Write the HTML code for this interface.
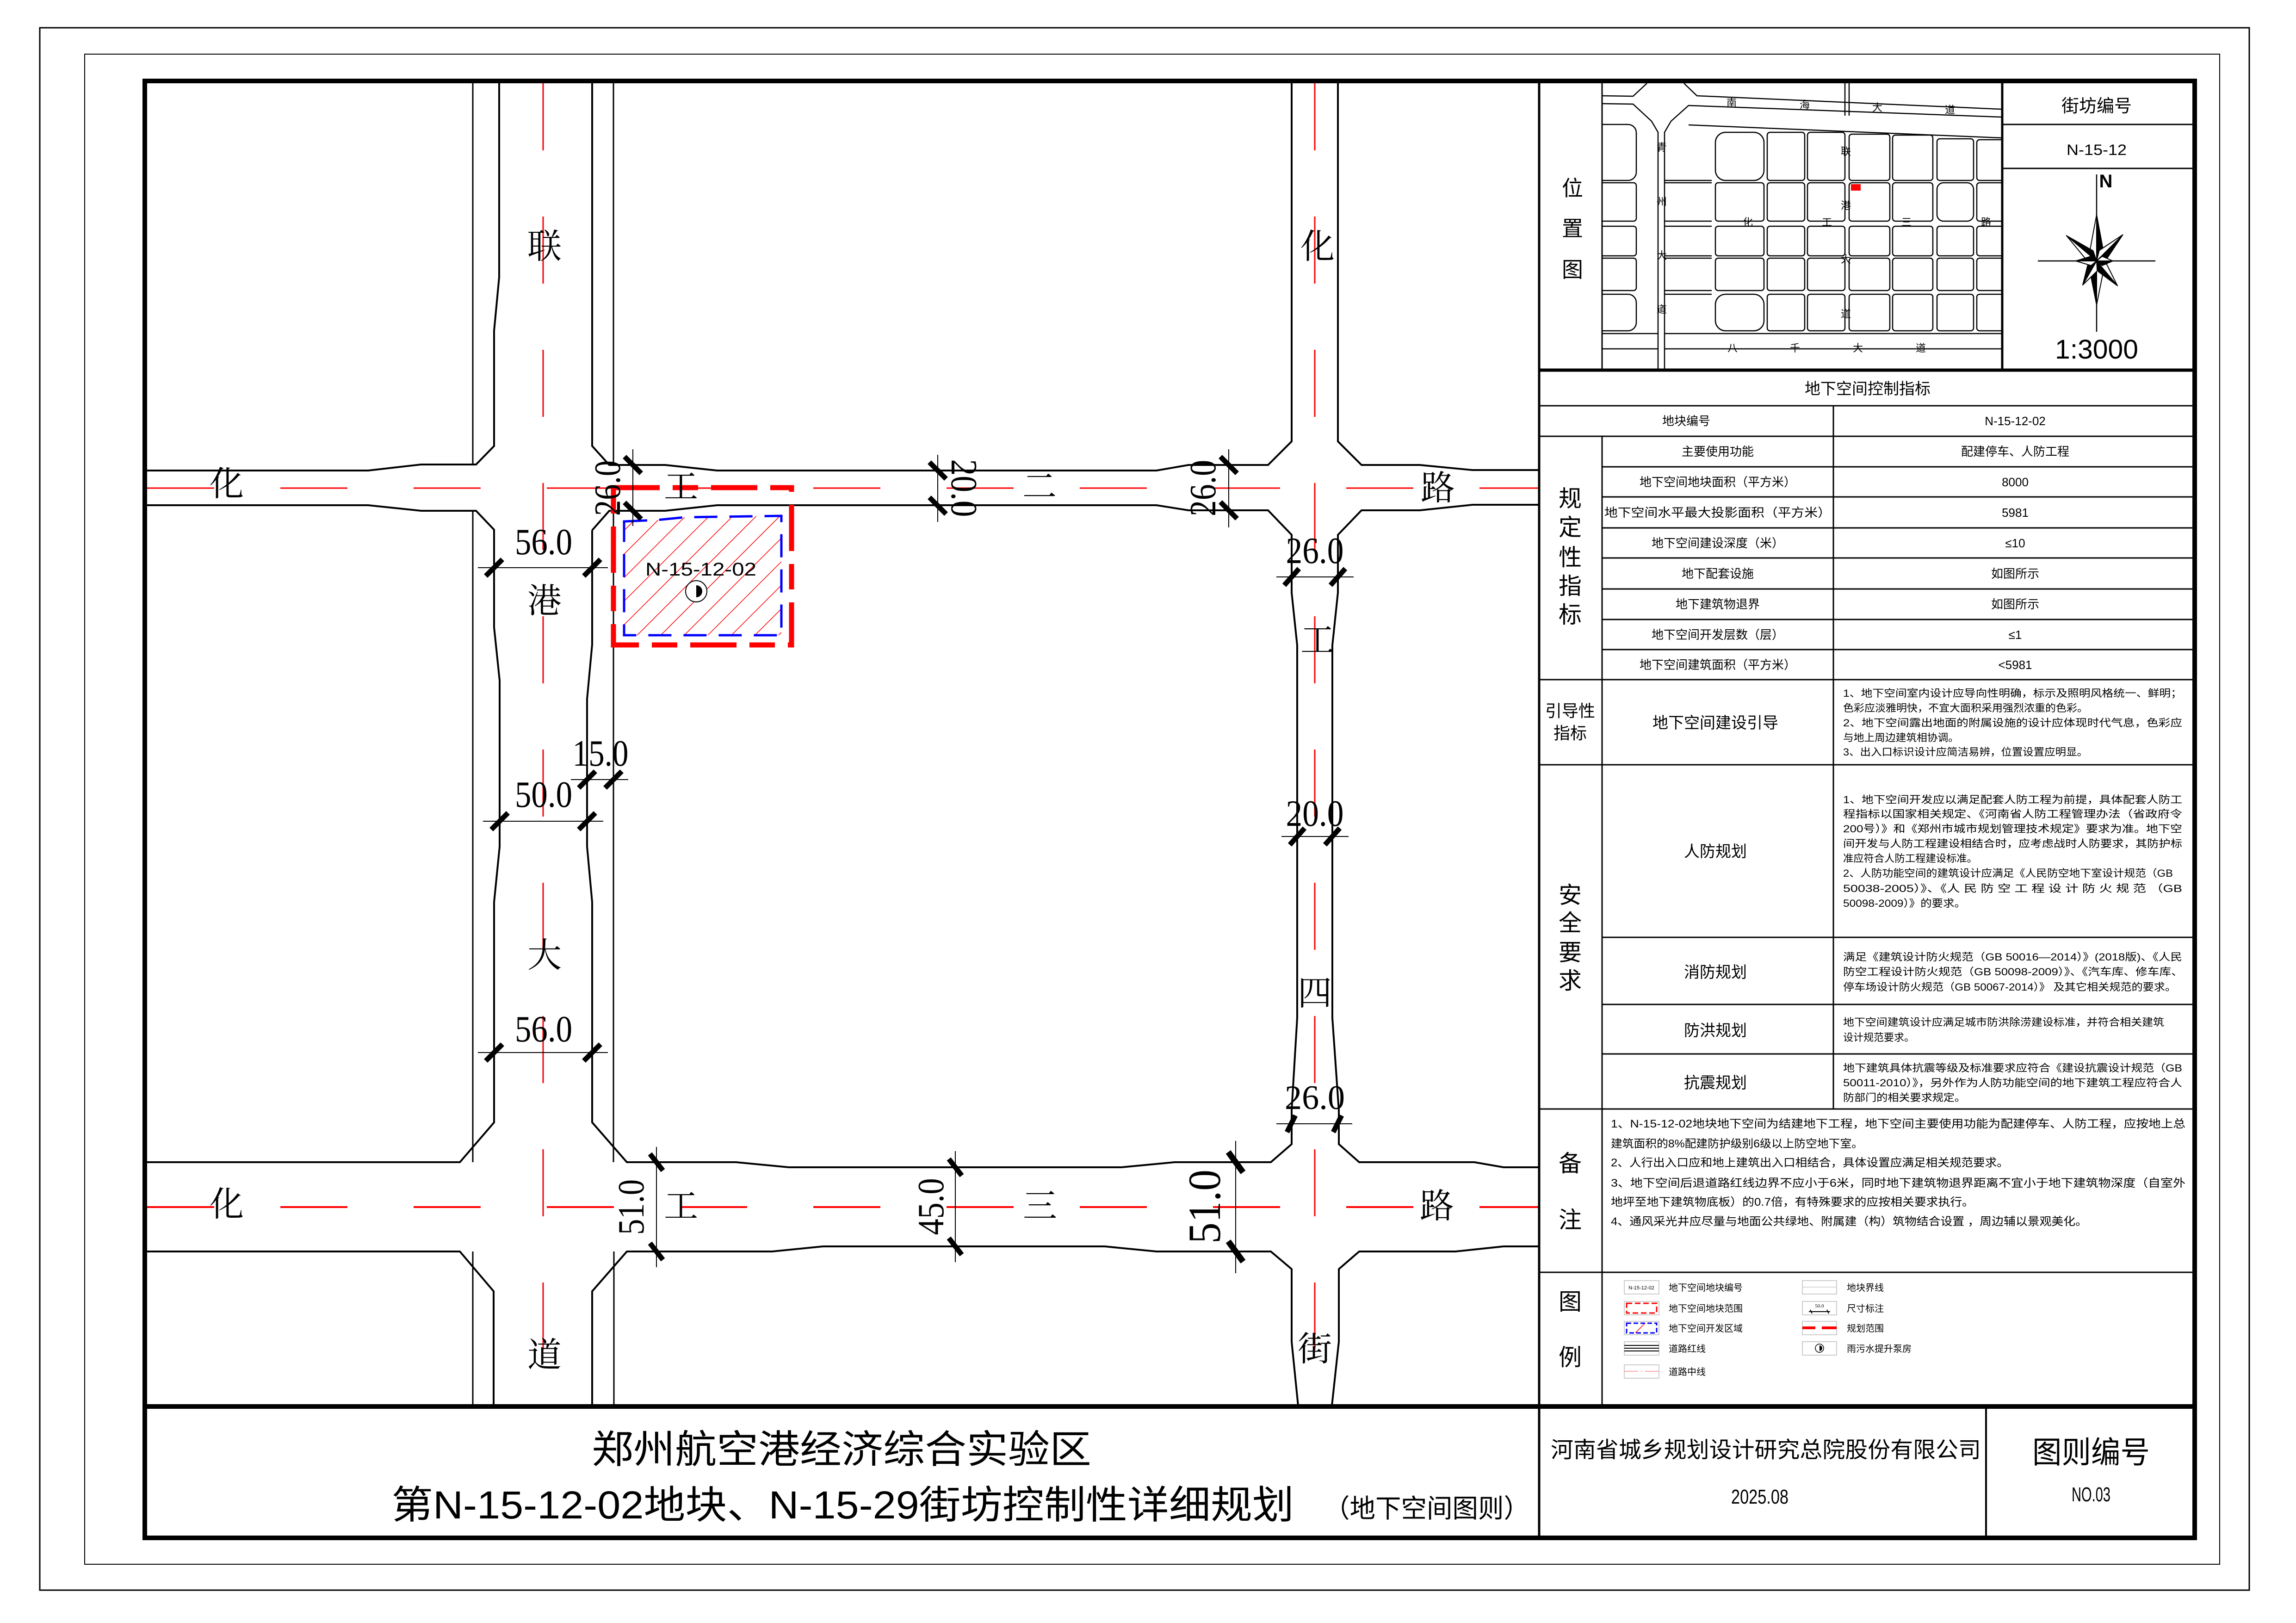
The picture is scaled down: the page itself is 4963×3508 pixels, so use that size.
<!DOCTYPE html>
<html><head><meta charset="utf-8"><style>
html,body{margin:0;padding:0;background:#fff;}
svg{display:block;}
.m{font-family:"Liberation Serif","Noto Serif CJK SC",serif;}
.s{font-family:"Liberation Sans","Noto Sans CJK SC",sans-serif;}
</style></head><body>
<svg xmlns="http://www.w3.org/2000/svg" width="4963" height="3508" viewBox="0 0 4963 3508">
<defs>
<pattern id="hatch" patternUnits="userSpaceOnUse" width="36" height="36" patternTransform="rotate(45)">
<line x1="0" y1="0" x2="0" y2="36" stroke="#f00" stroke-width="3"/>
</pattern>
<clipPath id="locclip"><rect x="3463" y="180" width="865" height="618"/></clipPath>
</defs>
<rect width="4963" height="3508" fill="#fff"/>
<rect x="86" y="60" width="4776" height="3377" fill="none" stroke="#000" stroke-width="3"/>
<rect x="183" y="117" width="4615" height="3264" fill="none" stroke="#000" stroke-width="2"/>

<g fill="none" stroke="#000" stroke-width="4" stroke-linejoin="miter">
<path d="M1022,180 V1004 M1022,1104 V2512 M1022,2705 V3038" stroke-width="3"/>
<path d="M1326,180 V1005 M1326,1104 V2512 M1327,2705 V3038" stroke-width="3"/>
<path d="M1079,180 L1079,599 L1068,715 L1068,964 L1029,1004 L910,1004 L796,1017 L318,1017"/>
<path d="M318,1092 L796,1092 L910,1104 L1029,1104 L1068,1145 L1068,1356 L1080,1471 L1080,1830 L1068,1950 L1068,2426 L994,2512 L318,2512"/>
<path d="M318,2705 L994,2705 L1067,2791 L1067,3038"/>
<path d="M1280,180 L1280,964 L1317,1005 L1438,1005 L1550,1017 L2500,1017 L2569,1005 L2741,1005 L2792,954 L2792,180"/>
<path d="M2892,180 L2892,954 L2943,1005 L3069,1005 L3183,1016 L3327,1016"/>
<path d="M1280,1146 L1317,1104 L1438,1104 L1550,1092 L2500,1092 L2569,1103 L2741,1103 L2792,1156 L2792,1281 L2804,1395 L2804,2200 L2792,2400 L2792,2473 L2747,2512 L2539,2512 L2424,2523 L1705,2523 L1591,2512 L1355,2512 L1280,2426 L1280,1950 L1269,1830 L1269,1511 L1280,1393 L1280,1146"/>
<path d="M3327,1091 L3183,1091 L3069,1103 L2943,1103 L2892,1156 L2892,1281 L2880,1395 L2880,2200 L2894,2400 L2894,2473 L2938,2512 L3187,2512 L3250,2523 L3327,2523"/>
<path d="M3327,2694 L3250,2694 L3146,2705 L2938,2705 L2894,2743 L2894,2900 L2879,3038"/>
<path d="M2806,3038 L2792,2900 L2792,2743 L2747,2705 L2500,2705 L2388,2694 L1779,2694 L1669,2705 L1355,2705 L1280,2791 L1280,3038"/>
</g>
<g stroke="#f00" stroke-width="3" stroke-dasharray="145 143" fill="none">
<line x1="1174" y1="180" x2="1174" y2="3038"/>
<line x1="2842" y1="180" x2="2842" y2="3038"/>
<line x1="318" y1="1055" x2="3327" y2="1055"/>
<line x1="318" y1="2609" x2="3327" y2="2609" stroke-width="4"/>
</g>
<polygon points="1349,1127 1420,1124 1480,1118 1689,1115 1689,1373 1349,1373" fill="url(#hatch)"/>
<polygon points="1349,1127 1420,1124 1480,1118 1689,1115 1689,1373 1349,1373" fill="none" stroke="#00f" stroke-width="5" stroke-dasharray="50 26"/>
<rect x="1326" y="1054" width="385" height="340" fill="none" stroke="#f00" stroke-width="11" stroke-dasharray="100 28 55 28"/>
<text x="1515" y="1244" class="s" font-size="40" text-anchor="middle" textLength="240" lengthAdjust="spacingAndGlyphs">N-15-12-02</text>
<circle cx="1505" cy="1278" r="23" fill="#fff" stroke="#000" stroke-width="2"/>
<path d="M1505,1265 A13,13 0 0 1 1505,1291 Z" fill="#000"/>
<g class="m" font-size="74" text-anchor="middle" font-family="Noto Serif CJK SC, serif">
<text x="1177" y="558">联</text><text x="1177" y="1324">港</text><text x="1177" y="2090">大</text><text x="1177" y="2954">道</text>
<text x="490" y="1071">化</text><text x="1472" y="1077">工</text><text x="2247" y="1077">二</text><text x="3108" y="1080">路</text>
<text x="2848" y="558">化</text><text x="2848" y="1409">工</text><text x="2842" y="2172">四</text><text x="2842" y="2941">街</text>
<text x="490" y="2628">化</text><text x="1472" y="2632">工</text><text x="2248" y="2632">三</text><text x="3106" y="2632">路</text>
</g>
<g stroke="#000" stroke-width="2" fill="none">
<line x1="1033" y1="1227" x2="1314" y2="1227"/>
<line x1="1234" y1="1685" x2="1358" y2="1685"/>
<line x1="1044" y1="1775" x2="1304" y2="1775"/>
<line x1="1033" y1="2275" x2="1314" y2="2275"/>
<line x1="1368" y1="971" x2="1368" y2="1137"/>
<line x1="2027" y1="983" x2="2027" y2="1128"/>
<line x1="2656" y1="971" x2="2656" y2="1140"/>
<line x1="2759" y1="1247" x2="2926" y2="1247"/>
<line x1="2770" y1="1808" x2="2915" y2="1808"/>
<line x1="2759" y1="2429" x2="2923" y2="2429"/>
<line x1="1419" y1="2479" x2="1419" y2="2739"/>
<line x1="2065" y1="2488" x2="2065" y2="2728"/>
<line x1="2671" y1="2466" x2="2671" y2="2752"/>
</g>
<g stroke="#000" stroke-width="11">
<path d="M1050,1245 L1086,1209 M1262,1245 L1298,1209"/>
<path d="M1251,1703 L1287,1667 M1308,1703 L1344,1667"/>
<path d="M1062,1793 L1098,1757 M1251,1793 L1287,1757"/>
<path d="M1050,2293 L1086,2257 M1262,2293 L1298,2257"/>
<path d="M2776,1265 L2808,1229 M2876,1265 L2908,1229"/>
<path d="M2788,1826 L2820,1790 M2864,1826 L2896,1790"/>
<path d="M2782,2447 L2800,2411 M2882,2447 L2900,2411"/>
<path d="M1350,987 L1386,1023 M1350,1086 L1386,1122"/>
<path d="M2009,999 L2045,1035 M2009,1075 L2045,1111"/>
<path d="M2638,987 L2674,1023 M2638,1085 L2674,1121"/>
<path d="M1405,2494 L1433,2530 M1405,2687 L1433,2723"/>
<path d="M2051,2505 L2079,2541 M2051,2676 L2079,2712"/>
<path d="M2655,2490 L2687,2534 M2655,2683 L2687,2727" stroke-width="13"/>
</g>
<g class="m" font-size="80" text-anchor="middle" font-family="Liberation Serif, serif">
<text x="1175" y="1198" textLength="124" lengthAdjust="spacingAndGlyphs">56.0</text>
<text x="1298" y="1655" textLength="121" lengthAdjust="spacingAndGlyphs">15.0</text>
<text x="1175" y="1744" textLength="124" lengthAdjust="spacingAndGlyphs">50.0</text>
<text x="1175" y="2251" textLength="124" lengthAdjust="spacingAndGlyphs">56.0</text>
<text x="2842" y="1217" textLength="125" lengthAdjust="spacingAndGlyphs">26.0</text>
<text x="2842" y="1785" textLength="125" lengthAdjust="spacingAndGlyphs">20.0</text>
<text x="2842" y="2397" textLength="130" lengthAdjust="spacingAndGlyphs" font-size="74">26.0</text>
<text transform="translate(1340,1055) rotate(-90)" textLength="120" lengthAdjust="spacingAndGlyphs">26.0</text>
<text transform="translate(2057,1055) rotate(90)" textLength="125" lengthAdjust="spacingAndGlyphs">20.0</text>
<text transform="translate(2627,1055) rotate(-90)" textLength="122" lengthAdjust="spacingAndGlyphs">26.0</text>
<text transform="translate(1391,2609) rotate(-90)" textLength="120" lengthAdjust="spacingAndGlyphs">51.0</text>
<text transform="translate(2039,2608) rotate(-90)" textLength="123" lengthAdjust="spacingAndGlyphs">45.0</text>
<text transform="translate(2637,2608) rotate(-90)" font-size="100" textLength="160" lengthAdjust="spacingAndGlyphs">51.0</text>
</g>

<line x1="308" y1="3040" x2="4749" y2="3040" stroke="#000" stroke-width="10"/>
<g class="s" font-family="Liberation Sans, Noto Sans CJK SC, sans-serif" fill="#000">
<text x="1279" y="3162" font-size="84" textLength="1080" lengthAdjust="spacingAndGlyphs">郑州航空港经济综合实验区</text>
<text x="846" y="3282" font-size="84" textLength="1951" lengthAdjust="spacingAndGlyphs">第N-15-12-02地块、N-15-29街坊控制性详细规划</text>
<text x="2862" y="3280" font-size="56" textLength="444" lengthAdjust="spacingAndGlyphs">（地下空间图则）</text>
<text x="3352" y="3150" font-size="48" textLength="930" lengthAdjust="spacingAndGlyphs">河南省城乡规划设计研究总院股份有限公司</text>
<text x="3804" y="3250" font-size="44" text-anchor="middle" textLength="124" lengthAdjust="spacingAndGlyphs">2025.08</text>
<text x="4520" y="3162" font-size="66" text-anchor="middle" textLength="254" lengthAdjust="spacingAndGlyphs">图则编号</text>
<text x="4520" y="3245" font-size="44" text-anchor="middle" textLength="84" lengthAdjust="spacingAndGlyphs">NO.03</text>
</g>
<line x1="4293" y1="3040" x2="4293" y2="3329" stroke="#000" stroke-width="4"/>

<g stroke="#000" stroke-width="3" fill="none">
<line x1="3327" y1="175" x2="3327" y2="3329" stroke-width="5"/>
<line x1="3463" y1="180" x2="3463" y2="798"/>
<line x1="4328" y1="180" x2="4328" y2="798" stroke-width="5"/>
<line x1="4328" y1="269" x2="4749" y2="269"/>
<line x1="4328" y1="364" x2="4749" y2="364"/>
<line x1="3327" y1="800" x2="4749" y2="800" stroke-width="7"/>
<line x1="3327" y1="877" x2="4749" y2="877"/>
<line x1="3327" y1="943" x2="4749" y2="943"/>
<path d="M3463,1009 H4749 M3463,1074 H4749 M3463,1141 H4749 M3463,1206 H4749 M3463,1273 H4749 M3463,1339 H4749 M3463,1404 H4749"/>
<line x1="3327" y1="1469" x2="4749" y2="1469"/>
<line x1="3327" y1="1653" x2="4749" y2="1653"/>
<line x1="3463" y1="2026" x2="4749" y2="2026"/>
<line x1="3463" y1="2171" x2="4749" y2="2171"/>
<line x1="3463" y1="2278" x2="4749" y2="2278"/>
<line x1="3327" y1="2397" x2="4749" y2="2397"/>
<line x1="3327" y1="2750" x2="4749" y2="2750"/>
<line x1="3463" y1="943" x2="3463" y2="3038"/>
<line x1="3963" y1="877" x2="3963" y2="2397"/>
</g>
<g clip-path="url(#locclip)" fill="none" stroke="#000" stroke-width="2.5">
<path d="M3463,207 L3530,208 L3560,180 M3640,180 L3668,207 L4326,236"/>
<path d="M3463,224 L3530,225 L3570,262 L3584,286 L3584,800 M3598,800 L3598,286 L3612,262 L3650,228 L4326,253"/>
<path d="M3650,270 L4326,298 M3463,721 L3584,721 M3598,721 L4326,721 M3463,754 L3584,754 M3598,754 L4326,754"/>
<path d="M3598,390 H3700 M3598,395 H3700 M3598,478 H3700 M3598,489 H3700 M3598,553 H3700 M3598,558 H3700 M3598,628 H3700 M3598,636 H3700"/>
<path d="M3997,180 L3997,250 M3988,180 L3988,250"/>
<rect x="3440" y="269" width="97" height="121" rx="18"/>
<rect x="3440" y="395" width="97" height="83" rx="6"/>
<rect x="3440" y="489" width="97" height="64" rx="6"/>
<rect x="3440" y="558" width="97" height="70" rx="6"/>
<rect x="3440" y="636" width="97" height="79" rx="18"/>
<rect x="3708" y="286" width="105" height="104" rx="22"/>
<rect x="3820" y="286" width="81" height="104" rx="6"/><rect x="3907" y="286" width="81" height="104" rx="6"/>
<rect x="3997" y="290" width="88" height="100" rx="6"/><rect x="4091" y="292" width="87" height="98" rx="6"/>
<rect x="4187" y="300" width="79" height="90" rx="6"/><rect x="4273" y="302" width="70" height="88" rx="6"/>
<rect x="3708" y="636" width="105" height="79" rx="22"/>
<rect x="3708" y="395" width="105" height="83" rx="6"/><rect x="3820" y="395" width="81" height="83" rx="6"/><rect x="3907" y="395" width="81" height="83" rx="6"/><rect x="3997" y="395" width="88" height="83" rx="6"/><rect x="4091" y="395" width="87" height="83" rx="6"/><rect x="4187" y="395" width="79" height="83" rx="14"/><rect x="4273" y="395" width="70" height="83" rx="6"/>
<rect x="3708" y="489" width="105" height="64" rx="6"/><rect x="3820" y="489" width="81" height="64" rx="6"/><rect x="3907" y="489" width="81" height="64" rx="6"/><rect x="3997" y="489" width="88" height="64" rx="6"/><rect x="4091" y="489" width="87" height="64" rx="6"/><rect x="4187" y="489" width="79" height="64" rx="6"/><rect x="4273" y="489" width="70" height="64" rx="6"/>
<rect x="3708" y="558" width="105" height="70" rx="6"/><rect x="3820" y="558" width="81" height="70" rx="6"/><rect x="3907" y="558" width="81" height="70" rx="6"/><rect x="3997" y="558" width="88" height="70" rx="6"/><rect x="4091" y="558" width="87" height="70" rx="6"/><rect x="4187" y="558" width="79" height="70" rx="6"/><rect x="4273" y="558" width="70" height="70" rx="6"/>
<rect x="3820" y="636" width="81" height="79" rx="6"/><rect x="3907" y="636" width="81" height="79" rx="6"/><rect x="3997" y="636" width="88" height="79" rx="6"/><rect x="4091" y="636" width="87" height="79" rx="6"/><rect x="4187" y="636" width="79" height="79" rx="6"/><rect x="4273" y="636" width="70" height="79" rx="6"/>
</g>
<rect x="4001" y="398" width="21" height="14" fill="#f00"/>
<g font-family="Noto Sans CJK SC, sans-serif" font-size="22" text-anchor="middle" fill="#000">
<text x="3743" y="230">南</text><text x="3901" y="234">海</text><text x="4058" y="240">大</text><text x="4215" y="245">道</text>
<text x="3592" y="326">青</text><text x="3592" y="444">州</text><text x="3592" y="560">大</text><text x="3592" y="676">道</text>
<text x="3990" y="335">联</text><text x="3990" y="452">港</text><text x="3990" y="568">大</text><text x="3990" y="686">道</text>
<text x="3778" y="488">化</text><text x="3949" y="488">工</text><text x="4121" y="488">三</text><text x="4293" y="488">路</text>
<text x="3745" y="760">八</text><text x="3880" y="760">千</text><text x="4016" y="760">大</text><text x="4152" y="760">道</text>
</g>
<g transform="translate(4532,564)">
<line x1="0" y1="-187" x2="0" y2="153" stroke="#000" stroke-width="2.5"/>
<line x1="-127" y1="0" x2="127" y2="0" stroke="#000" stroke-width="2.5"/>
<g stroke="#000" stroke-width="2" stroke-linejoin="round">
<g><polygon points="0,0 0,-100 14,-25" fill="#000"/><polygon points="0,0 0,-100 -14,-25" fill="#fff"/></g>
<g transform="rotate(180)"><polygon points="0,0 0,-95 14,-25" fill="#000"/><polygon points="0,0 0,-95 -14,-25" fill="#fff"/></g>
<g transform="rotate(45)"><polygon points="0,0 0,-80 12,-20" fill="#000"/><polygon points="0,0 0,-80 -12,-20" fill="#fff"/></g>
<g transform="rotate(-50)"><polygon points="0,0 0,-85 12,-20" fill="#000"/><polygon points="0,0 0,-85 -12,-20" fill="#fff"/></g>
<g transform="rotate(140)"><polygon points="0,0 0,-70 12,-20" fill="#000"/><polygon points="0,0 0,-70 -12,-20" fill="#fff"/></g>
<g transform="rotate(-150)"><polygon points="0,0 0,-60 12,-18" fill="#000"/><polygon points="0,0 0,-60 -12,-18" fill="#fff"/></g>
<g transform="rotate(90)"><polygon points="0,0 0,-35 10,-12" fill="#000"/><polygon points="0,0 0,-35 -10,-12" fill="#fff"/></g>
<g transform="rotate(-90)"><polygon points="0,0 0,-45 10,-12" fill="#000"/><polygon points="0,0 0,-45 -10,-12" fill="#fff"/></g>
</g>
</g>
<g class="s" font-family="Liberation Sans, Noto Sans CJK SC, sans-serif" fill="#000" text-anchor="middle">
<text x="4552" y="405" font-size="40" font-weight="bold">N</text>
<text x="4532" y="775" font-size="58" textLength="180" lengthAdjust="spacingAndGlyphs">1:3000</text>
<text x="4532" y="242" font-size="38">街坊编号</text>
<text x="4532" y="335" font-size="32" textLength="130" lengthAdjust="spacingAndGlyphs">N-15-12</text>
<text x="3399" y="423" font-size="46">位</text><text x="3399" y="510" font-size="46">置</text><text x="3399" y="599" font-size="46">图</text>
<text x="4037" y="852" font-size="34">地下空间控制指标</text>
<g font-size="26">
<text x="3645" y="919">地块编号</text><text x="4356" y="919">N-15-12-02</text>
<text x="3713" y="985">主要使用功能</text><text x="4356" y="985">配建停车、人防工程</text>
<text x="3713" y="1051">地下空间地块面积（平方米）</text><text x="4356" y="1051">8000</text>
<text x="3713" y="1117" textLength="490" lengthAdjust="spacingAndGlyphs">地下空间水平最大投影面积（平方米）</text><text x="4356" y="1117">5981</text>
<text x="3713" y="1183">地下空间建设深度（米）</text><text x="4356" y="1183">≤10</text>
<text x="3713" y="1249">地下配套设施</text><text x="4356" y="1249">如图所示</text>
<text x="3713" y="1315">地下建筑物退界</text><text x="4356" y="1315">如图所示</text>
<text x="3713" y="1381">地下空间开发层数（层）</text><text x="4356" y="1381">≤1</text>
<text x="3713" y="1446">地下空间建筑面积（平方米）</text><text x="4356" y="1446">&lt;5981</text>
</g>
<g font-size="50">
<text x="3394" y="1095">规</text><text x="3394" y="1157">定</text><text x="3394" y="1222">性</text><text x="3394" y="1284">指</text><text x="3394" y="1346">标</text>
<text x="3394" y="1952">安</text><text x="3394" y="2012">全</text><text x="3394" y="2076">要</text><text x="3394" y="2137">求</text>
<text x="3394" y="2532">备</text><text x="3394" y="2654">注</text>
<text x="3394" y="2831">图</text><text x="3394" y="2951">例</text>
</g>
<g font-size="36"><text x="3394" y="1549">引导性</text><text x="3394" y="1597">指标</text></g>
<g font-size="34">
<text x="3708" y="1574">地下空间建设引导</text>
<text x="3708" y="1852">人防规划</text>
<text x="3708" y="2113">消防规划</text>
<text x="3708" y="2239">防洪规划</text>
<text x="3708" y="2352">抗震规划</text>
</g>
</g>
<g font-family="Liberation Sans, Noto Sans CJK SC, sans-serif" font-size="22" fill="#000">
<text x="3984" y="1506" textLength="733" lengthAdjust="spacingAndGlyphs">1、地下空间室内设计应导向性明确，标示及照明风格统一、鲜明；</text>
<text x="3984" y="1538" textLength="529" lengthAdjust="spacingAndGlyphs">色彩应淡雅明快，不宜大面积采用强烈浓重的色彩。</text>
<text x="3984" y="1570" textLength="733" lengthAdjust="spacingAndGlyphs">2、地下空间露出地面的附属设施的设计应体现时代气息，色彩应</text>
<text x="3984" y="1602" textLength="250" lengthAdjust="spacingAndGlyphs">与地上周边建筑相协调。</text>
<text x="3984" y="1633" textLength="529" lengthAdjust="spacingAndGlyphs">3、出入口标识设计应简洁易辨，位置设置应明显。</text>
<text x="3984" y="1736" textLength="733" lengthAdjust="spacingAndGlyphs">1、地下空间开发应以满足配套人防工程为前提，具体配套人防工</text>
<text x="3984" y="1767" textLength="733" lengthAdjust="spacingAndGlyphs">程指标以国家相关规定、《河南省人防工程管理办法（省政府令</text>
<text x="3984" y="1799" textLength="733" lengthAdjust="spacingAndGlyphs">200号）》和《郑州市城市规划管理技术规定》要求为准。地下空</text>
<text x="3984" y="1831" textLength="733" lengthAdjust="spacingAndGlyphs">间开发与人防工程建设相结合时，应考虑战时人防要求，其防护标</text>
<text x="3984" y="1863" textLength="290" lengthAdjust="spacingAndGlyphs">准应符合人防工程建设标准。</text>
<text x="3984" y="1895" textLength="713" lengthAdjust="spacingAndGlyphs">2、人防功能空间的建筑设计应满足《人民防空地下室设计规范（GB</text>
<text x="3984" y="1928" textLength="733" lengthAdjust="spacingAndGlyphs">50038-2005）》、《人 民 防 空 工 程 设 计 防 火 规 范 （GB</text>
<text x="3984" y="1960" textLength="265" lengthAdjust="spacingAndGlyphs">50098-2009）》的要求。</text>
<text x="3984" y="2076" textLength="733" lengthAdjust="spacingAndGlyphs">满足《建筑设计防火规范（GB 50016—2014）》(2018版)、《人民</text>
<text x="3984" y="2108" textLength="735" lengthAdjust="spacingAndGlyphs">防空工程设计防火规范（GB 50098-2009）》、《汽车库、修车库、</text>
<text x="3984" y="2141" textLength="720" lengthAdjust="spacingAndGlyphs">停车场设计防火规范（GB 50067-2014）》 及其它相关规范的要求。</text>
<text x="3984" y="2217" textLength="694" lengthAdjust="spacingAndGlyphs">地下空间建筑设计应满足城市防洪除涝建设标准，并符合相关建筑</text>
<text x="3984" y="2250" textLength="154" lengthAdjust="spacingAndGlyphs">设计规范要求。</text>
<text x="3984" y="2316" textLength="733" lengthAdjust="spacingAndGlyphs">地下建筑具体抗震等级及标准要求应符合《建设抗震设计规范（GB</text>
<text x="3984" y="2348" textLength="733" lengthAdjust="spacingAndGlyphs">50011-2010）》，另外作为人防功能空间的地下建筑工程应符合人</text>
<text x="3984" y="2380" textLength="265" lengthAdjust="spacingAndGlyphs">防部门的相关要求规定。</text>
</g>
<g font-family="Liberation Sans, Noto Sans CJK SC, sans-serif" font-size="24" fill="#000">
<text x="3482" y="2437" textLength="1242" lengthAdjust="spacingAndGlyphs">1、N-15-12-02地块地下空间为结建地下工程，地下空间主要使用功能为配建停车、人防工程，应按地上总</text>
<text x="3482" y="2480" textLength="545" lengthAdjust="spacingAndGlyphs">建筑面积的8%配建防护级别6级以上防空地下室。</text>
<text x="3482" y="2521" textLength="860" lengthAdjust="spacingAndGlyphs">2、人行出入口应和地上建筑出入口相结合，具体设置应满足相关规范要求。</text>
<text x="3482" y="2565" textLength="1242" lengthAdjust="spacingAndGlyphs">3、地下空间后退道路红线边界不应小于6米，同时地下建筑物退界距离不宜小于地下建筑物深度（自室外</text>
<text x="3482" y="2606" textLength="785" lengthAdjust="spacingAndGlyphs">地坪至地下建筑物底板）的0.7倍，有特殊要求的应按相关要求执行。</text>
<text x="3482" y="2648" textLength="1030" lengthAdjust="spacingAndGlyphs">4、通风采光井应尽量与地面公共绿地、附属建（构）筑物结合设置 ，周边辅以景观美化。</text>
</g>
<g fill="none" stroke="#bbb" stroke-width="1.5">
<rect x="3511" y="2768" width="75" height="29"/><rect x="3511" y="2813" width="75" height="29"/><rect x="3511" y="2856" width="75" height="29"/>
<rect x="3511" y="2900" width="75" height="29"/><rect x="3511" y="2950" width="75" height="29"/>
<rect x="3896" y="2768" width="74" height="29"/><rect x="3896" y="2813" width="74" height="29"/><rect x="3896" y="2856" width="74" height="29"/><rect x="3896" y="2900" width="74" height="29"/>
</g>
<text x="3548" y="2787" font-family="Liberation Sans, sans-serif" font-size="11" text-anchor="middle">N-15-12-02</text>
<rect x="3516" y="2817" width="65" height="21" fill="none" stroke="#f00" stroke-width="3" stroke-dasharray="12 6"/>
<rect x="3516" y="2860" width="65" height="21" fill="url(#hatch)" stroke="#00f" stroke-width="3" stroke-dasharray="10 5"/>
<path d="M3511,2908 H3586 M3511,2914 H3586 M3511,2920 H3586" stroke="#000" stroke-width="2"/>
<path d="M3511,2964 H3586" stroke="#f88" stroke-width="1.5" stroke-dasharray="30 6 3 6"/>
<path d="M3896,2782 H3970" stroke="#ccc" stroke-width="1.5"/>
<path d="M3910,2835 H3956 M3913,2831 L3917,2839 M3949,2831 L3953,2839" stroke="#000" stroke-width="2"/>
<text x="3933" y="2826" font-family="Liberation Serif, serif" font-size="11" text-anchor="middle">50.0</text>
<path d="M3896,2870 H3924 M3938,2870 H3970" stroke="#f00" stroke-width="6"/>
<circle cx="3933" cy="2914" r="9" fill="none" stroke="#000" stroke-width="1.5"/>
<path d="M3933,2908 A6,6 0 0 1 3933,2920 Z" fill="#000"/>
<g font-family="Liberation Sans, Noto Sans CJK SC, sans-serif" font-size="20" fill="#000">
<text x="3607" y="2790">地下空间地块编号</text><text x="3607" y="2835">地下空间地块范围</text><text x="3607" y="2878">地下空间开发区域</text>
<text x="3607" y="2922">道路红线</text><text x="3607" y="2972">道路中线</text>
<text x="3992" y="2790">地块界线</text><text x="3992" y="2835">尺寸标注</text><text x="3992" y="2878">规划范围</text><text x="3992" y="2922">雨污水提升泵房</text>
</g>

<rect x="313" y="175" width="4431" height="3149" fill="none" stroke="#000" stroke-width="10"/>
</svg>
</body></html>
